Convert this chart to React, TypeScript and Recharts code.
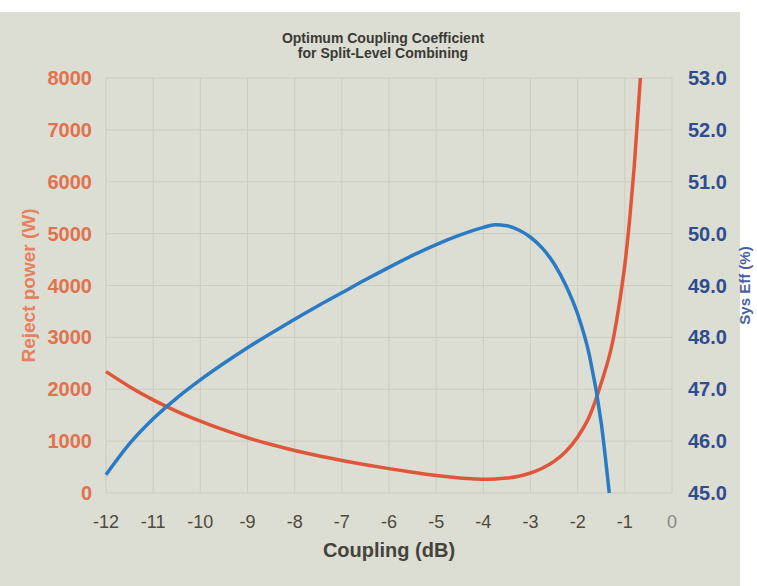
import { CartesianGrid, Label, Line, LineChart, XAxis, YAxis } from "recharts";

// Coupling (dB) sample points for each curve
const rejectCoupling = [
  -12, -11.5, -11, -10.5, -10, -9.5, -9, -8.5, -8, -7.5, -7, -6.5, -6, -5.5, -5, -4.5, -4.25, -4, -3.75,
  -3.5, -3.25, -3, -2.75, -2.5, -2.25, -2, -1.75, -1.5, -1.25, -1.1, -1, -0.9, -0.8, -0.67,
];
const rejectPower = [
  2340, 2050, 1795, 1575, 1385, 1215, 1065, 935, 820, 718, 628, 545, 470, 400, 336, 290, 274, 266, 270,
  287, 322, 385, 478, 610, 800, 1080, 1480, 2120, 2950, 3750, 4400, 5250, 6300, 8000,
];

const effCoupling = [
  -12, -11.5, -11, -10.5, -10, -9.5, -9, -8.5, -8, -7.5, -7, -6.5, -6, -5.5, -5, -4.5, -4, -3.75, -3.5,
  -3.25, -3, -2.75, -2.5, -2.25, -2, -1.75, -1.5, -1.33,
];
const sysEff = [
  45.35, 45.95, 46.43, 46.83, 47.18, 47.5, 47.8, 48.08, 48.35, 48.61, 48.86, 49.11, 49.35, 49.58, 49.79,
  49.97, 50.12, 50.17, 50.15, 50.07, 49.93, 49.72, 49.42, 49.0, 48.45, 47.65, 46.35, 45.0,
];

const xTicks = [-12, -11, -10, -9, -8, -7, -6, -5, -4, -3, -2, -1, 0];
const powerTicks = [0, 1000, 2000, 3000, 4000, 5000, 6000, 7000, 8000];
const effTicks = [45, 46, 47, 48, 49, 50, 51, 52, 53];

const rejectData = rejectCoupling.map((x, i) => ({ x, power: rejectPower[i] }));
const effData = effCoupling.map((x, i) => ({ x, eff: sysEff[i] }));

const font = "'Liberation Sans', Arial, sans-serif";

function CouplingTick(props: any) {
  const { x, y, payload } = props;
  return (
    <text
      x={x}
      y={y}
      dy="0.71em"
      textAnchor="middle"
      fontSize={18}
      fontFamily={font}
      fill={payload.value === 0 ? "#8a8a80" : "#4d4b3a"}
    >
      {payload.value}
    </text>
  );
}

export default function App() {
  return (
    <div style={{ position: "absolute", left: 0, top: 0, width: 757, height: 586, background: "#fff", fontFamily: font }}>
      <div style={{ position: "absolute", left: 0, top: 12, width: 740, height: 574, background: "#dcddd3" }} />
      <div
        style={{
          position: "absolute",
          left: 233,
          width: 300,
          top: 31,
          textAlign: "center",
          fontSize: 14,
          lineHeight: "15px",
          fontWeight: 700,
          color: "#3a3a35",
        }}
      >
        Optimum Coupling Coefficient
        <br />
        for Split-Level Combining
      </div>
      <div style={{ position: "absolute", left: 0, top: 0 }}>
        <LineChart width={757} height={586} margin={{ top: 78, right: 25, bottom: 23, left: 46 }}>
          <CartesianGrid stroke="#cccdc1" yAxisId="left" />
          <XAxis
            dataKey="x"
            type="number"
            domain={[-12, 0]}
            ticks={xTicks}
            height={70}
            axisLine={false}
            tickLine={false}
            tickSize={0}
            tickMargin={22}
            tick={<CouplingTick />}
          >
            <Label
              value="Coupling (dB)"
              position="insideBottom"
              offset={6}
              style={{ fontSize: 20, fontWeight: 700, fill: "#45443a", fontFamily: font }}
            />
          </XAxis>
          <YAxis
            yAxisId="left"
            domain={[0, 8000]}
            ticks={powerTicks}
            width={60}
            axisLine={false}
            tickLine={false}
            tickSize={0}
            tickMargin={14}
            tick={{ fontSize: 20, fontWeight: 700, fill: "#e2714d", fontFamily: font }}
          >
            <Label
              value="Reject power (W)"
              angle={-90}
              position="insideLeft"
              offset={-18}
              style={{ textAnchor: "middle", fontSize: 19, fontWeight: 700, fill: "#e7805c", fontFamily: font }}
            />
          </YAxis>
          <YAxis
            yAxisId="right"
            orientation="right"
            domain={[45, 53]}
            ticks={effTicks}
            tickFormatter={(v: number) => v.toFixed(1)}
            width={60}
            axisLine={false}
            tickLine={false}
            tickSize={0}
            tickMargin={16}
            tick={{ fontSize: 20, fontWeight: 700, fill: "#2f4d8e", fontFamily: font }}
          >
            <Label
              value="Sys Eff (%)"
              angle={-90}
              position="insideRight"
              offset={-13}
              style={{ textAnchor: "middle", fontSize: 15, fontWeight: 700, fill: "#4a5fa0", fontFamily: font }}
            />
          </YAxis>
          <Line
            yAxisId="left"
            data={rejectData}
            dataKey="power"
            type="monotone"
            stroke="#e0563a"
            strokeWidth={3.5}
            dot={false}
            isAnimationActive={false}
          />
          <Line
            yAxisId="right"
            data={effData}
            dataKey="eff"
            type="monotone"
            stroke="#2a7bc4"
            strokeWidth={3.5}
            dot={false}
            isAnimationActive={false}
          />
        </LineChart>
      </div>
    </div>
  );
}
